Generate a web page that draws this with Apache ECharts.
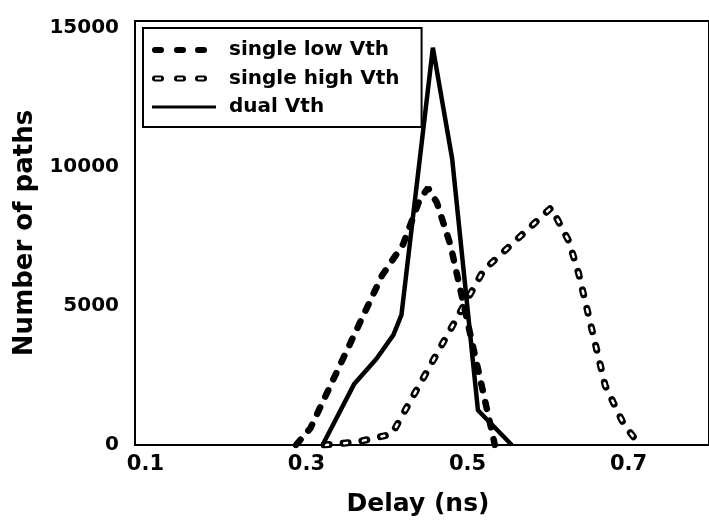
<!DOCTYPE html>
<html>
<head>
<meta charset="utf-8">
<script src="https://cdn.jsdelivr.net/npm/echarts@6/dist/echarts.min.js"></script>
<style>
  html, body { margin: 0; padding: 0; background: #fff; }
  #chart { width: 709px; height: 522px; }
</style>
</head>
<body>
<div id="chart"></div>
<script>
// ── Data: [delay (ns), number of paths] ──
const lowVth = [
  [0.287, 0], [0.305, 610], [0.394, 6100], [0.420, 7210], [0.441, 8850],
  [0.451, 9240], [0.462, 8710], [0.479, 7170], [0.534, 0]
];
const highVth = [
  [0.322, 0], [0.363, 110], [0.406, 390], [0.520, 6280], [0.604, 8530],
  [0.626, 7320], [0.638, 6170], [0.671, 2140], [0.694, 750], [0.714, 0]
];
const dualVth = [
  [0.320, 0], [0.359, 2180], [0.387, 3100], [0.408, 3960], [0.418, 4680],
  [0.457, 14280], [0.481, 10280], [0.513, 1250], [0.555, 0]
];
const delayTicks = [0.1, 0.3, 0.5, 0.7];
const seriesNames = ['single low Vth', 'single high Vth', 'dual Vth'];

const FONT = 'DejaVu Sans';

// legend icons: anchors fix the box to 64x8
const ANCHOR = 'M0,0L0,8L0,0Z M64,0L64,8L64,0Z ';
const blob = x => `M${x + 3},1h6a3,3 0 0 1 0,6h-6a3,3 0 0 1 0,-6Z `;
const hole = x => `M${x + 3},3v2h6v-2Z `;
const iconLow  = 'path://' + ANCHOR + [0, 22, 43].map(blob).join('');
const iconHigh = 'path://' + ANCHOR + [0, 22, 43].map(x => blob(x) + hole(x)).join('');
const iconDual = 'path://' + ANCHOR + 'M0,2.5h64v3h-64Z';

const chart = echarts.init(document.getElementById('chart'));

const option = {
  backgroundColor: '#fff',
  animation: false,
  grid: {
    left: 135, top: 21, width: 582, height: 427,
    show: true, borderColor: '#000', borderWidth: 2, backgroundColor: 'transparent'
  },
  legend: {
    orient: 'vertical', left: 143, top: 28,
    padding: [12, 22, 10, 9],
    itemWidth: 64, itemHeight: 8, itemGap: 8.5,
    borderColor: '#000', borderWidth: 2,
    selectedMode: false,
    itemStyle: { borderWidth: 0 },
    textStyle: { fontFamily: FONT, fontWeight: 'bold', fontSize: 20, lineHeight: 20, color: '#000', padding: [0, 0, 0, 8] },
    data: [
      { name: seriesNames[0], icon: iconLow },
      { name: seriesNames[1], icon: iconHigh },
      { name: seriesNames[2], icon: iconDual },
    ]
  },
  xAxis: {
    type: 'value', min: 0.087, max: 0.8,
    name: 'Delay (ns)', nameLocation: 'middle', nameGap: 47,
    nameTextStyle: { fontFamily: FONT, fontWeight: 'bold', fontSize: 25, color: '#000', padding: [0, 8, 0, 0] },
    axisLine: { show: true, lineStyle: { color: '#000', width: 2 } },
    axisTick: { show: false },
    splitLine: { show: false },
    axisLabel: {
      customValues: delayTicks,
      formatter: v => v.toFixed(1),
      fontFamily: FONT, fontWeight: 'bold', fontSize: 21, color: '#000', margin: 9
    }
  },
  yAxis: {
    type: 'value', min: 0, max: 15240, interval: 5000,
    name: 'Number of paths', nameLocation: 'middle', nameGap: 97,
    nameTextStyle: { fontFamily: FONT, fontWeight: 'bold', fontSize: 26, color: '#000' },
    axisLine: { show: true, lineStyle: { color: '#000', width: 2 } },
    axisTick: { show: false },
    splitLine: { show: false },
    axisLabel: {
      showMaxLabel: false, formatter: v => String(v),
      fontFamily: FONT, fontWeight: 'bold', fontSize: 20, color: '#000', margin: 16
    }
  },
  series: [
    { name: seriesNames[1], type: 'line', data: highVth, symbol: 'none', z: 2, color: '#000',
      lineStyle: { color: '#000', width: 7, type: [5, 14], cap: 'round' } },
    { name: 'high-inner', type: 'line', data: highVth, symbol: 'none', z: 3, color: '#fff',
      lineStyle: { color: '#fff', width: 2.5, type: [3, 16], dashOffset: -1, cap: 'round' } },
    { name: seriesNames[0], type: 'line', data: lowVth, symbol: 'none', z: 4, color: '#000',
      lineStyle: { color: '#000', width: 6.5, type: [7, 12], cap: 'round' } },
    { name: seriesNames[2], type: 'line', data: dualVth, symbol: 'none', z: 5, color: '#000',
      lineStyle: { color: '#000', width: 4.5 } },
  ]
};

chart.setOption(option);
</script>
</body>
</html>
